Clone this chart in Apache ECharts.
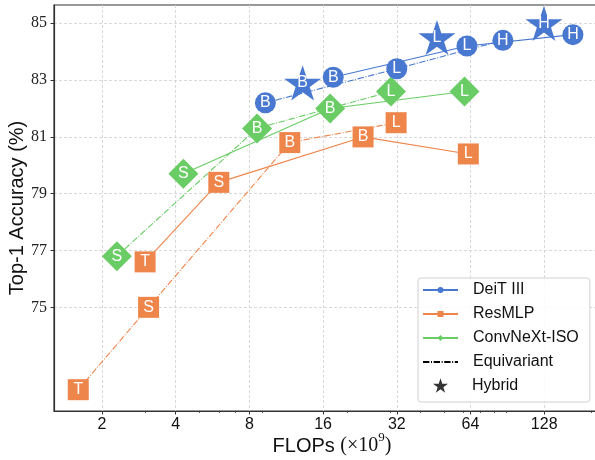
<!DOCTYPE html>
<html><head><meta charset="utf-8">
<script src="https://cdn.jsdelivr.net/npm/echarts@6/dist/echarts.min.js"></script>
<style>html,body{margin:0;padding:0;background:#fff}#c{width:595px;height:460px}</style>
</head><body><div id="c"></div>
<script>
// ---- tick labels ----
const xTicks = [2, 4, 8, 16, 32, 64, 128];
const xMinorTicks = [3, 5, 6, 7, 9, 20, 30, 40, 50, 60, 70, 80, 90, 200];
const yTicks = [75, 77, 79, 81, 83, 85];

// ---- DeiT III ----
const deitLabels = ['B', 'L', 'H'];
const deitFlops = [17.6, 61.9, 167.7];
const deitAcc = [83.1, 84.2, 84.6];
const deitEqFlops = [9.3, 32.0, 86.8];
const deitEqAcc = [82.2, 83.4, 84.4];
const deitHybFlops = [13.2, 46.7, 127.7];
const deitHybAcc = [82.9, 84.5, 85.0];

// ---- ResMLP ----
const resLabels = ['T', 'S', 'B', 'L'];
const resFlops = [3.0, 6.0, 23.3, 62.7];
const resAcc = [76.6, 79.4, 81.0, 80.4];
const resEqFlops = [1.6, 3.1, 11.7, 31.8];
const resEqAcc = [72.1, 75.0, 80.8, 81.5];

// ---- ConvNeXt-ISO ----
const cnLabels = ['S', 'B', 'L'];
const cnFlops = [4.3, 17.1, 60.5];
const cnAcc = [79.7, 82.0, 82.6];
const cnEqFlops = [2.3, 8.6, 30.3];
const cnEqAcc = [76.8, 81.3, 82.6];

const BLUE = '#4878d0', ORANGE = '#ee854a', GREEN = '#6acc64';
const SANS = 'Liberation Sans', SERIF = 'Liberation Serif';
const STAR = 'path://M100,0 L122.45,69.1 L195.1,69.1 L136.33,111.8 L158.78,180.9 L100,138.2 L41.22,180.9 L63.67,111.8 L4.9,69.1 L77.55,69.1 Z';
const DASHDOT = [6.4, 1.6, 1, 1.6];

function pts(xs, ys, labels) { return xs.map((x, i) => [x, ys[i], labels[i]]); }
function lbl() { return { show: true, position: 'inside', formatter: p => p.value[2], color: '#fff', fontSize: 16, fontFamily: SANS }; }

function lineSeries(name, xs, ys, labels, color, symbol, size, dashed) {
  return {
    name, type: 'line', data: pts(xs, ys, labels),
    symbol, symbolSize: size, symbolKeepAspect: true, showAllSymbol: true,
    itemStyle: { color, opacity: 1 },
    lineStyle: { color, width: 1.1, type: dashed ? DASHDOT : 'solid' },
    label: lbl(), emphasis: { disabled: true }, animation: false, z: 3
  };
}

const series = [
  lineSeries('ResMLP', resFlops, resAcc, resLabels, ORANGE, 'rect', 21, false),
  lineSeries('ResMLP eq', resEqFlops, resEqAcc, resLabels, ORANGE, 'rect', 21, true),
  lineSeries('ConvNeXt-ISO', cnFlops, cnAcc, cnLabels, GREEN, 'diamond', 30, false),
  lineSeries('ConvNeXt-ISO eq', cnEqFlops, cnEqAcc, cnLabels, GREEN, 'diamond', 30, true),
  lineSeries('DeiT III', deitFlops, deitAcc, deitLabels, BLUE, 'circle', 21, false),
  lineSeries('DeiT III eq', deitEqFlops, deitEqAcc, deitLabels, BLUE, 'circle', 21, true),
  {
    name: 'DeiT III hybrid', type: 'scatter', data: pts(deitHybFlops, deitHybAcc, deitLabels),
    symbol: STAR, symbolSize: 37, symbolKeepAspect: true,
    itemStyle: { color: BLUE, opacity: 1 }, label: lbl(), emphasis: { disabled: true }, animation: false, z: 4
  },
  {
    name: 'Equivariant', type: 'line', data: [], symbol: 'none',
    itemStyle: { color: '#000' }, lineStyle: { color: '#000', width: 1.3, type: DASHDOT }, animation: false
  },
  {
    name: 'Hybrid', type: 'scatter', data: [], symbol: STAR, symbolKeepAspect: true,
    itemStyle: { color: '#000' }, animation: false
  }
];

const xMin = 1.2735, xMax = 237.7, yMin = 71.35, yMax = 85.644;
function legendText(padLeft) { return { fontSize: 16, fontFamily: SANS, color: '#111', lineHeight: 16, padding: [0, 0, 0, padLeft] }; }

const option = {
  backgroundColor: '#fff',
  animation: false,
  grid: { left: 54, top: 5, width: 556, height: 406, show: true, borderColor: '#333', borderWidth: 1.2, outerBoundsMode: 'none', containLabel: false },
  xAxis: [
    {
      type: 'log', logBase: 2, min: xMin, max: xMax, position: 'bottom',
      axisLine: { show: true, lineStyle: { color: '#333', width: 1.2 } },
      axisTick: { show: true, customValues: xTicks, length: 3.5, inside: false, lineStyle: { color: '#333', width: 1 } },
      axisLabel: { show: true, customValues: xTicks, formatter: v => String(Math.round(v)), fontSize: 16, fontFamily: SANS, color: '#111', margin: 6 },
      splitLine: { show: true, lineStyle: { color: '#cfcfcf', type: [3, 2], width: 0.8 } },
      minorTick: { show: false }, minorSplitLine: { show: false },
      name: '{a|FLOPs }{b|(×10}{c|9}{b|)}', nameLocation: 'middle', nameGap: 20, nameMoveOverlap: false,
      nameTextStyle: {
        rich: {
          a: { fontSize: 20, fontFamily: SANS, color: '#111', lineHeight: 30 },
          b: { fontSize: 20, fontFamily: SERIF, color: '#111', lineHeight: 30 },
          c: { fontSize: 13, fontFamily: SERIF, color: '#111', lineHeight: 13, verticalAlign: 'top' }
        }
      }
    },
    {
      type: 'log', logBase: 2, min: xMin, max: xMax, position: 'bottom',
      axisLine: { show: false },
      axisTick: { show: true, customValues: xMinorTicks, length: 2, inside: false, lineStyle: { color: '#333', width: 0.8 } },
      axisLabel: { show: false, customValues: xMinorTicks },
      splitLine: { show: false }
    }
  ],
  yAxis: {
    type: 'value', min: yMin, max: yMax,
    axisLine: { show: true, lineStyle: { color: '#333', width: 1.2 } },
    axisTick: { show: true, customValues: yTicks, length: 3.5, inside: false, lineStyle: { color: '#333', width: 1 } },
    axisLabel: { show: true, customValues: yTicks, fontSize: 16, fontFamily: SERIF, color: '#222', margin: 7 },
    splitLine: { show: true, lineStyle: { color: '#cfcfcf', type: [3, 2], width: 0.8 } },
    name: 'Top-1 Accuracy (%)', nameLocation: 'middle', nameGap: 27, nameRotate: 90, nameMoveOverlap: false,
    nameTextStyle: { fontSize: 20, fontFamily: SANS, color: '#111' }
  },
  legend: [
    {
      data: [{ name: 'DeiT III' }, { name: 'ResMLP' }, { name: 'ConvNeXt-ISO' },
             { name: 'Equivariant', itemStyle: { color: 'rgba(0,0,0,0)', borderWidth: 0 } }],
      orient: 'vertical', left: 418, top: 278, padding: [4, 11, 32, 4],
      itemWidth: 35, itemHeight: 7.5, itemGap: 8, textStyle: legendText(10),
      backgroundColor: 'rgba(255,255,255,0.85)', borderColor: '#d0d0d0', borderWidth: 1, borderRadius: 3,
      selectedMode: false
    },
    {
      data: ['Hybrid'], orient: 'vertical', left: 433, top: 377.5, padding: 0,
      itemWidth: 15, itemHeight: 15, itemGap: 8, textStyle: legendText(19), selectedMode: false
    }
  ],
  series
};

const chart = echarts.init(document.getElementById('c'), null, { renderer: 'canvas' });
chart.setOption(option);
</script></body></html>
